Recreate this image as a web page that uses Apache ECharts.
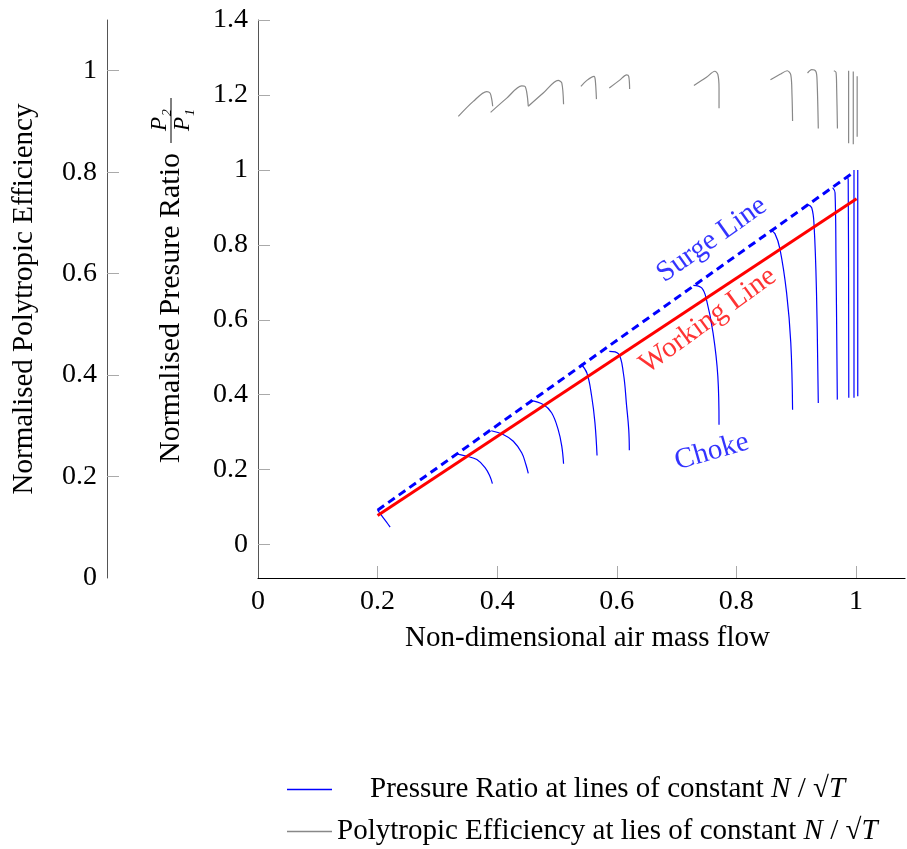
<!DOCTYPE html>
<html>
<head>
<meta charset="utf-8">
<script src="https://cdn.jsdelivr.net/npm/echarts@6/dist/echarts.min.js"></script>
<style>
  html, body { margin: 0; padding: 0; background: #fff; }
  #chart { width: 907px; height: 849px; }
</style>
</head>
<body>
<div id="chart"></div>
<script>
// tick values
var xTicks = [0, 0.2, 0.4, 0.6, 0.8, 1];
var prTicks = [0, 0.2, 0.4, 0.6, 0.8, 1, 1.2, 1.4];
var effTicks = [0, 0.2, 0.4, 0.6, 0.8, 1];

// surge and working lines [mass flow, pressure ratio]
var surgeLine = [[0.2, 0.092], [0.993, 0.99]];
var workingLine = [[0.2, 0.078], [1.001, 0.923]];

// pressure ratio at lines of constant N/sqrt(T)
var prLines = [
    [[0.2, 0.092], [0.208, 0.075], [0.215, 0.06], [0.221, 0.047]],
    [[0.332, 0.242], [0.349, 0.236], [0.366, 0.227], [0.380, 0.205], [0.388, 0.182], [0.392, 0.163]],
    [[0.390, 0.304], [0.410, 0.294], [0.427, 0.276], [0.441, 0.245], [0.448, 0.214], [0.452, 0.190]],
    [[0.455, 0.385], [0.477, 0.374], [0.491, 0.352], [0.502, 0.307], [0.508, 0.263], [0.511, 0.216]],
    [[0.540, 0.482], [0.550, 0.458], [0.558, 0.396], [0.5635, 0.325], [0.567, 0.238]],
    [[0.5875, 0.516], [0.6025, 0.51], [0.611, 0.458], [0.6165, 0.369], [0.620, 0.307], [0.621, 0.252]],
    [[0.728, 0.692], [0.742, 0.685], [0.750, 0.654], [0.761, 0.565], [0.769, 0.449], [0.771, 0.32]],
    [[0.857, 0.839], [0.8645, 0.830], [0.873, 0.788], [0.884, 0.672], [0.891, 0.539], [0.894, 0.36]],
    [[0.919, 0.908], [0.926, 0.899], [0.930, 0.850], [0.934, 0.672], [0.937, 0.378]],
    [[0.961, 0.9525], [0.965, 0.939], [0.9666, 0.761], [0.9688, 0.387]],
    [[0.984, 0.982], [0.987, 0.975], [0.988, 0.392]],
    [[0.9967, 1.0], [0.9967, 0.392]],
    [[1.003, 1.0], [1.003, 0.396]]
];

// polytropic efficiency at lines of constant N/sqrt(T)
var effLines = [
    [[0.335, 0.910], [0.360, 0.9395], [0.3824, 0.959], [0.388, 0.956], [0.391, 0.943], [0.3925, 0.93]],
    [[0.389, 0.918], [0.416, 0.946], [0.441, 0.970], [0.4465, 0.969], [0.450, 0.953], [0.452, 0.93]],
    [[0.452, 0.93], [0.477, 0.956], [0.502, 0.981], [0.508, 0.976], [0.511, 0.934]],
    [[0.540, 0.969], [0.550, 0.981], [0.562, 0.989], [0.564, 0.982], [0.566, 0.944]],
    [[0.5875, 0.966], [0.6054, 0.982], [0.6165, 0.992], [0.620, 0.989], [0.6215, 0.964]],
    [[0.729, 0.971], [0.750, 0.987], [0.764, 0.999], [0.769, 0.993], [0.771, 0.966], [0.771, 0.926]],
    [[0.857, 0.982], [0.873, 0.993], [0.885, 1.0], [0.891, 0.992], [0.893, 0.953], [0.894, 0.901]],
    [[0.919, 0.9955], [0.926, 1.002], [0.933, 0.9986], [0.935, 0.979], [0.937, 0.886]],
    [[0.963, 1.0], [0.9666, 0.997], [0.9677, 0.966], [0.969, 0.886]],
    [[0.9877, 1.0], [0.9877, 0.857]],
    [[0.9955, 0.9986], [0.9955, 0.855]],
    [[1.002, 0.989], [1.002, 0.870]]
];

// where the in-plot labels sit (data coords)
var surgeLabelAt = [0.759, 0.814];
var workingLabelAt = [0.7525, 0.598];
var chokeLabelAt = [0.759, 0.248];

var FONT = 'Liberation Serif';
var BLUE = '#0000ff';
var RED = '#ff0000';
var GREY = '#888888';
var prName = 'Pressure Ratio at lines of constant N/√T';
var effName = 'Polytropic Efficiency at lies of constant N/√T';

var oChart = echarts.init(document.getElementById('chart'));

var aSeries = [];

prLines.forEach(function (aLine) {
    aSeries.push({
        name: prName,
        type: 'line',
        data: aLine,
        yAxisIndex: 0,
        smooth: 0.4,
        symbol: 'none',
        z: 2,
        itemStyle: { color: BLUE },
        lineStyle: { color: BLUE, width: 1.2 }
    });
});

effLines.forEach(function (aLine) {
    aSeries.push({
        name: effName,
        type: 'line',
        data: aLine,
        yAxisIndex: 1,
        smooth: 0.3,
        symbol: 'none',
        z: 2,
        itemStyle: { color: GREY },
        lineStyle: { color: GREY, width: 1.2 }
    });
});

aSeries.push({
    name: 'Surge Line',
    type: 'line',
    data: surgeLine,
    symbol: 'none',
    z: 3,
    lineStyle: { color: BLUE, width: 3, type: [8, 5] }
});

aSeries.push({
    name: 'Working Line',
    type: 'line',
    data: workingLine,
    symbol: 'none',
    z: 4,
    lineStyle: { color: RED, width: 3 }
});

// text labels inside the plot
function textLabel(cName, aAt, cText, cColor, nRotate) {
    return {
        name: cName,
        type: 'scatter',
        data: [aAt],
        symbolSize: 0,
        silent: true,
        z: 5,
        label: {
            show: true,
            position: 'inside',
            formatter: cText,
            rotate: nRotate,
            color: cColor,
            fontFamily: FONT,
            fontSize: 29
        }
    };
}
aSeries.push(textLabel('lblSurge', surgeLabelAt, 'Surge Line', BLUE, 35.3));
aSeries.push(textLabel('lblWorking', workingLabelAt, 'Working Line', RED, 36));
aSeries.push(textLabel('lblChoke', chokeLabelAt, 'Choke', BLUE, 16));

var oLabel = { fontFamily: FONT, fontSize: 28, color: '#000', margin: 10 };

oChart.setOption({
    backgroundColor: '#fff',
    animation: false,
    grid: { left: 258, right: 2, top: 20, bottom: 271 },
    legend: {
        data: [prName, effName],
        orient: 'vertical',
        left: 287,
        top: 775,
        padding: 0,
        icon: 'rect',
        itemWidth: 45,
        itemHeight: 1.5,
        itemGap: 13,
        selectedMode: false,
        formatter: function (name) {
            var cTail = '{i|N}{t| / √}{i|T}';
            if (name === prName) {
                return '{pad| }{t|Pressure Ratio at lines of constant }' + cTail;
            }
            return '{t|Polytropic Efficiency at lies of constant }' + cTail;
        },
        textStyle: {
            fontFamily: FONT, fontSize: 29, color: '#000', lineHeight: 28,
            rich: {
                pad: { width: 33, lineHeight: 28 },
                t: { fontFamily: FONT, fontSize: 29, color: '#000', lineHeight: 28 },
                i: { fontFamily: FONT, fontSize: 29, color: '#000', fontStyle: 'italic', lineHeight: 28 }
            }
        }
    },
    xAxis: {
        type: 'value',
        min: 0,
        max: 1.082,
        name: 'Non-dimensional air mass flow',
        nameLocation: 'middle',
        nameGap: 46,
        nameTextStyle: { fontFamily: FONT, fontSize: 29, color: '#000', padding: [0, 0, 0, 12] },
        splitLine: { show: false },
        axisLine: { onZero: false, lineStyle: { color: '#000', width: 1.2 } },
        axisTick: { inside: true, length: 12, lineStyle: { color: '#aaa' }, customValues: xTicks.slice(1) },
        axisLabel: Object.assign({ customValues: xTicks }, oLabel)
    },
    yAxis: [
        {
            type: 'value',
            position: 'left',
            min: -0.089,
            max: 1.4,
            name: 'Normalised Presure Ratio',
            nameLocation: 'middle',
            nameRotate: 90,
            nameGap: 72,
            nameTextStyle: { fontFamily: FONT, fontSize: 30, color: '#000', padding: [0, 18, 0, 0] },
            splitLine: { show: false },
            axisLine: { show: true, onZero: false, lineStyle: { color: '#555', width: 1 } },
            axisTick: { inside: true, length: 12, lineStyle: { color: '#aaa' }, customValues: prTicks },
            axisLabel: Object.assign({ customValues: prTicks }, oLabel)
        },
        {
            type: 'value',
            position: 'left',
            offset: 151,
            min: 0,
            max: 1.1,
            name: 'Normalised Polytropic Efficiency',
            nameLocation: 'middle',
            nameRotate: 90,
            nameGap: 68,
            nameTextStyle: { fontFamily: FONT, fontSize: 29, color: '#000' },
            splitLine: { show: false },
            axisLine: { show: true, onZero: false, lineStyle: { color: '#555', width: 1 } },
            axisTick: { inside: true, length: 12, lineStyle: { color: '#aaa' }, customValues: effTicks.slice(1) },
            axisLabel: Object.assign({ customValues: effTicks }, oLabel)
        }
    ],
    graphic: [
        {
            type: 'text', x: 160, y: 120, rotation: Math.PI / 2,
            style: { text: 'P₂', fontFamily: FONT, fontSize: 23, fontStyle: 'italic', fill: '#000', align: 'center', verticalAlign: 'middle' }
        },
        {
            type: 'line', shape: { x1: 171, y1: 98, x2: 171, y2: 143 },
            style: { stroke: '#000', lineWidth: 1 }
        },
        {
            type: 'text', x: 183, y: 120, rotation: Math.PI / 2,
            style: { text: 'P₁', fontFamily: FONT, fontSize: 23, fontStyle: 'italic', fill: '#000', align: 'center', verticalAlign: 'middle' }
        }
    ],
    series: aSeries
});
</script>
</body>
</html>
